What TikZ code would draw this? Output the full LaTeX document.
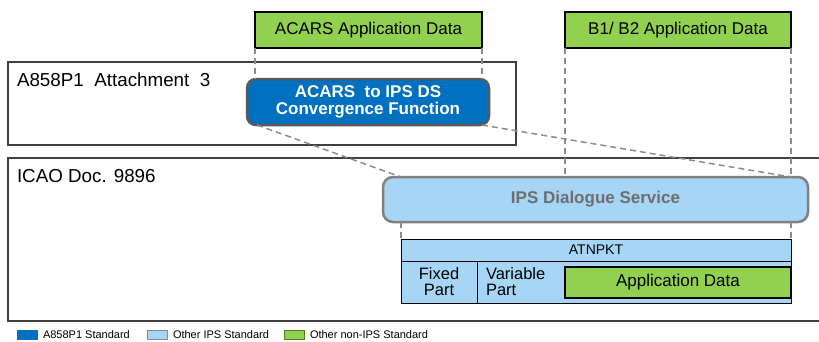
\documentclass[tikz,border=0pt]{standalone}
\usepackage{fontspec}
\setmainfont{Liberation Sans}
\usetikzlibrary{positioning}

\definecolor{gruen}{HTML}{92D050}
\definecolor{gruenrand}{HTML}{4F7F1F}
\definecolor{dunkelblau}{HTML}{0070C0}
\definecolor{hellblau}{HTML}{A6D5F6}
\definecolor{rahmen}{HTML}{404040}
\definecolor{strich}{HTML}{8C8C8C}

\begin{document}
\begin{tikzpicture}[x=1pt,y=-1pt,outer sep=0pt,
		appdata/.style={draw=black, line width=1.2pt, fill=gruen, inner sep=0pt, anchor=north west, font=\fontsize{17}{18}\selectfont},
		rahmenbox/.style={draw=rahmen, line width=1.5pt, inner sep=0pt, anchor=north west},
		titel/.style={anchor=base west, inner sep=0pt, font=\fontsize{18.8}{20}\selectfont},
		paket/.style={draw=black, line width=0.8pt, fill=hellblau, inner sep=0pt, anchor=north west},
		hilfslinie/.style={draw=strich, line width=1.5pt, dash pattern=on 6pt off 4pt},
		legbox/.style={minimum width=20pt, minimum height=9pt, inner sep=0pt, anchor=north west, line width=0.6pt},
		legtext/.style={inner sep=0pt, right=6pt of #1, font=\fontsize{11}{12}\selectfont}]
			%\draw [lightgray](0,0) grid (819,341);
			\useasboundingbox (0,0) rectangle (819,341);
			\clip (0,0) rectangle (819,341);
			
			% Zeichnet die Rahmen der beiden Standards
			\node[rahmenbox, minimum width=508pt, minimum height=83pt] (att) at (8,62) {};
			\node[titel] (atttitel) at (17,86) {A858P1\ \ Attachment\ \ 3};
			\draw[draw=rahmen, line width=1.5pt] (819,158) -- (8,158) -- (8,321) -- (819,321);
			\node[titel] (icaotitel) at (17,182) {ICAO Doc. 9896};
			
			% Zeichnet die Anwendungsdaten oben
			\node[appdata, minimum width=227pt, minimum height=36pt] (acars) at (255,12) {ACARS Application Data};
			\node[appdata, minimum width=226pt, minimum height=36pt] (bzwei) at (565,12) {B1/ B2 Application Data};
			
			% Zeichnet die Convergence Function
			\node[draw={rgb,255:red,89;green,89;blue,89}, line width=2.5pt, rounded corners=9pt, fill=dunkelblau, text=white, anchor=north west,
				minimum width=242pt, minimum height=46pt, inner sep=0pt, align=center, font=\bfseries\fontsize{17}{17}\selectfont]
				(conv) at (247,79) {ACARS\ \ to IPS DS\\Convergence Function};
			
			% Zeichnet den IPS Dialogue Service
			\node[draw={rgb,255:red,128;green,128;blue,128}, line width=2.5pt, rounded corners=10pt, fill=hellblau, text={rgb,255:red,110;green,110;blue,110}, anchor=north west,
				minimum width=425pt, minimum height=45pt, inner sep=0pt, font=\bfseries\fontsize{17}{18}\selectfont]
				(ips) at (383,177) {IPS Dialogue Service};
			
			% Zeichnet das ATNPKT
			\node[paket, minimum width=390pt, minimum height=22pt, font=\fontsize{14}{15}\selectfont] (atnpkt) at (401,239) {ATNPKT};
			\node[paket, minimum width=76pt, minimum height=42pt, align=center, font=\fontsize{16.5}{16}\selectfont] (fixed) at (401,261) {Fixed\\Part};
			\node[paket, minimum width=314pt, minimum height=42pt] (variabel) at (477,261) {};
			\node[anchor=west, inner sep=0pt, align=left, font=\fontsize{16.5}{16}\selectfont] (variabeltext) at ([xshift=9pt]variabel.west) {Variable\\Part};
			\node[appdata, minimum width=226pt, minimum height=31pt] (appdaten) at (565,267) {Application Data};
			
			% Zeichnet die gestrichelten Hilfslinien
			\draw[hilfslinie] (acars.south west) -- (acars.south west |- conv.north);
			\draw[hilfslinie] (acars.south east) -- (acars.south east |- conv.north);
			\draw[hilfslinie] (bzwei.south west) -- (bzwei.south west |- ips.north);
			\draw[hilfslinie] (bzwei.south east) -- (bzwei.south east |- ips.north);
			\draw[hilfslinie] ([xshift=10pt]conv.south west) -- (atnpkt.north west |- ips.north);
			\draw[hilfslinie] ([xshift=-7pt]conv.south east) -- (atnpkt.north east |- ips.north);
			\draw[hilfslinie] (atnpkt.north west |- ips.south) -- (atnpkt.north west);
			\draw[hilfslinie] (atnpkt.north east |- ips.south) -- (atnpkt.north east);
			
			% Zeichnet die Legende
			\node[legbox, fill=dunkelblau, draw=dunkelblau] (legeins) at (17,330) {};
			\node[legtext=legeins] (legeinstext) {A858P1 Standard};
			\node[legbox, fill=hellblau, draw=strich] (legzwei) at (147,330) {};
			\node[legtext=legzwei] (legzweitext) {Other IPS Standard};
			\node[legbox, fill=gruen, draw=gruenrand] (legdrei) at (284,330) {};
			\node[legtext=legdrei] (legdreitext) {Other non-IPS Standard};
		\end{tikzpicture}
\end{document}
